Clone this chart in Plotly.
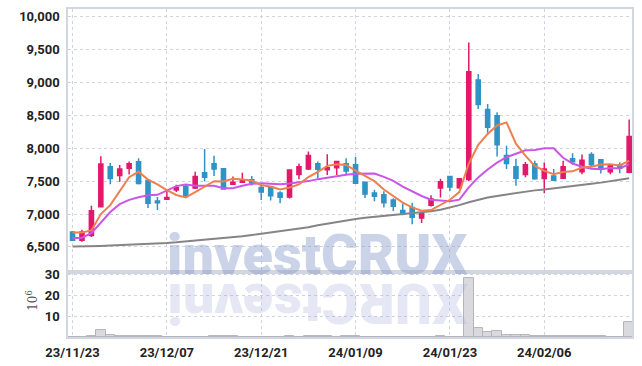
import plotly.graph_objects as go
from plotly.subplots import make_subplots

dates = ["23/11/23", "23/11/24", "23/11/27", "23/11/28", "23/11/29", "23/11/30", "23/12/01", "23/12/04", "23/12/05", "23/12/06",
         "23/12/07", "23/12/08", "23/12/11", "23/12/12", "23/12/13", "23/12/14", "23/12/15", "23/12/18", "23/12/19", "23/12/20",
         "23/12/21", "23/12/22", "23/12/27", "23/12/28", "23/12/29", "24/01/02", "24/01/03", "24/01/04", "24/01/05", "24/01/08",
         "24/01/09", "24/01/10", "24/01/11", "24/01/12", "24/01/15", "24/01/16", "24/01/17", "24/01/18", "24/01/19", "24/01/22",
         "24/01/23", "24/01/24", "24/01/25", "24/01/26", "24/01/29", "24/01/30", "24/01/31", "24/02/01", "24/02/02", "24/02/05",
         "24/02/06", "24/02/07", "24/02/12", "24/02/13", "24/02/15", "24/02/16", "24/02/19", "24/02/20", "24/02/21", "24/02/22"]

opens = [6725, 6600, 6675, 7110, 7720, 7585, 7695, 7795, 7510, 7200,
         7225, 7365, 7420, 7395, 7630, 7765, 7690, 7455, 7485, 7520,
         7405, 7410, 7320, 7260, 7600, 7685, 7765, 7672, 7705, 7765,
         7750, 7485, 7320, 7295, 7215, 7055, 7100, 6940, 7135, 7395,
         7570, 7400, 7525, 9040, 8590, 8495, 7890, 7720, 7600, 7760,
         7540, 7580, 7545, 7840, 7645, 7905, 7825, 7645, 7745, 7635]
highs = [6740, 6760, 7125, 7880, 7775, 7745, 7800, 7850, 7510, 7260,
         7350, 7445, 7440, 7645, 7990, 7885, 7690, 7570, 7630, 7580,
         7445, 7420, 7345, 7680, 7770, 7950, 7800, 7910, 7810, 7850,
         7870, 7490, 7370, 7345, 7240, 7160, 7170, 7010, 7285, 7535,
         7570, 7540, 9610, 9130, 8675, 8550, 8040, 7840, 7790, 7810,
         7785, 7685, 7810, 7925, 7905, 7940, 7830, 7750, 7785, 8440]
lows = [6590, 6580, 6650, 7100, 7455, 7490, 7600, 7450, 7090, 7060,
        7215, 7335, 7255, 7380, 7495, 7580, 7370, 7445, 7475, 7435,
        7215, 7205, 7165, 7235, 7530, 7670, 7535, 7595, 7595, 7600,
        7460, 7245, 7195, 7100, 7045, 6980, 6845, 6865, 7115, 7250,
        7350, 7385, 7500, 8600, 8210, 7875, 7685, 7430, 7560, 7520,
        7315, 7510, 7540, 7750, 7605, 7710, 7615, 7605, 7620, 7620]
closes = [6600, 6725, 7050, 7760, 7540, 7685, 7765, 7465, 7165, 7170,
          7250, 7400, 7280, 7570, 7560, 7685, 7380, 7485, 7520, 7475,
          7335, 7280, 7255, 7670, 7720, 7890, 7680, 7705, 7800, 7655,
          7470, 7305, 7270, 7170, 7120, 7000, 6950, 7005, 7230, 7490,
          7410, 7535, 9165, 8665, 8320, 8055, 7770, 7545, 7750, 7535,
          7685, 7515, 7720, 7795, 7820, 7750, 7685, 7745, 7695, 8180]

ma_short = [6720, 6720, 6750, 7000, 7135, 7352, 7560, 7643, 7524, 7450,
            7363, 7290, 7253, 7334, 7412, 7499, 7495, 7536, 7526, 7509,
            7439, 7419, 7373, 7403, 7452, 7563, 7643, 7733, 7759, 7746,
            7662, 7587, 7500, 7374, 7267, 7173, 7102, 7049, 7061, 7135,
            7217, 7334, 7766, 8053, 8219, 8348, 8395, 8071, 7888, 7731,
            7657, 7606, 7641, 7650, 7707, 7720, 7754, 7759, 7739, 7811]
ma_mid = [6630, 6640, 6710, 6870, 7030, 7150, 7215, 7255, 7285, 7292,
          7358, 7425, 7448, 7429, 7431, 7431, 7392, 7394, 7430, 7460,
          7469, 7457, 7454, 7464, 7480, 7501, 7531, 7553, 7581, 7599,
          7612, 7615, 7616, 7566, 7506, 7417, 7344, 7274, 7217, 7201,
          7195, 7218, 7407, 7557, 7677, 7782, 7864, 7918, 7970, 7975,
          8002, 8000, 7856, 7769, 7719, 7688, 7680, 7700, 7694, 7759]
ma_long = [6505, 6505, 6510, 6515, 6520, 6525, 6530, 6535, 6542, 6550,
           6560, 6570, 6582, 6595, 6610, 6622, 6635, 6648, 6662, 6680,
           6700, 6715, 6730, 6752, 6775, 6800, 6828, 6855, 6880, 6905,
           6925, 6942, 6956, 6968, 6980, 6992, 7005, 7022, 7042, 7066,
           7100, 7135, 7180, 7220, 7250, 7275, 7298, 7320, 7340, 7360,
           7375, 7390, 7405, 7420, 7440, 7460, 7478, 7497, 7515, 7545]

volume_m = [0.1, 0.1, 0.5, 3.5, 0.8, 0.3, 0.3, 0.3, 0.3, 0.3,
            0.1, 0.1, 0.1, 0.1, 0.1, 0.3, 0.3, 0.3, 0.1, 0.1,
            0.1, 0.1, 0.1, 0.3, 0.1, 0.3, 0.3, 0.3, 0.1, 0.3,
            0.3, 0.1, 0.1, 0.1, 0.1, 0.1, 0.1, 0.1, 0.1, 0.3,
            0.1, 0.1, 28.5, 4.4, 2.4, 2.9, 0.8, 0.8, 1.0, 0.3,
            0.3, 0.3, 0.3, 0.3, 0.3, 0.3, 0.3, 0.1, 0.1, 7.3]

x_ticks = ["23/11/23", "23/12/07", "23/12/21", "24/01/09", "24/01/23", "24/02/06"]
price_ticks = [6500, 7000, 7500, 8000, 8500, 9000, 9500, 10000]
volume_ticks = [10, 20, 30]

UP = "#e2196b"
DOWN = "#2f93c6"
GRID = "#cfd4e2"
FRAME = "#d2d6df"
TICKFONT = dict(family="Roboto, sans-serif", size=13, color="#222222", weight="bold")

fig = make_subplots(rows=2, cols=1, shared_xaxes=True, vertical_spacing=0,
                    row_heights=[0.802, 0.198])

fig.add_trace(go.Candlestick(
    x=dates, open=opens, high=highs, low=lows, close=closes,
    increasing=dict(line=dict(color=UP, width=1.5), fillcolor=UP),
    decreasing=dict(line=dict(color=DOWN, width=1.5), fillcolor=DOWN),
    whiskerwidth=0, showlegend=False), row=1, col=1)

fig.add_trace(go.Scatter(x=dates, y=ma_long, mode="lines",
                         line=dict(color="#858585", width=2), showlegend=False), row=1, col=1)
fig.add_trace(go.Scatter(x=dates, y=ma_mid, mode="lines",
                         line=dict(color="#cc55e8", width=2), showlegend=False), row=1, col=1)
fig.add_trace(go.Scatter(x=dates, y=ma_short, mode="lines",
                         line=dict(color="#ee8050", width=2), showlegend=False), row=1, col=1)

fig.add_trace(go.Bar(x=dates, y=volume_m,
                     marker=dict(color="#dadade", line=dict(color="#b4b4bc", width=1)),
                     showlegend=False), row=2, col=1)

xr = [-0.48, 59.3]
fig.update_xaxes(type="category", range=xr, tickvals=x_ticks, ticktext=x_ticks,
                 showgrid=True, gridcolor=GRID, griddash="dot", gridwidth=1,
                 showline=True, linecolor=FRAME, linewidth=1.5, mirror=True,
                 rangeslider=dict(visible=False), zeroline=False, automargin=False)
fig.update_xaxes(showticklabels=False, row=1, col=1)
fig.update_xaxes(showticklabels=True, tickfont=TICKFONT, ticks="outside",
                 ticklen=3, tickcolor="rgba(0,0,0,0)", row=2, col=1)

fig.update_yaxes(range=[6117, 10120], tickvals=price_ticks, tickformat=",d",
                 showgrid=True, gridcolor=GRID, griddash="dot", gridwidth=1,
                 showline=True, linecolor=FRAME, linewidth=1.5, mirror=True,
                 zeroline=False, tickfont=TICKFONT, ticks="outside", ticklen=4,
                 tickcolor="rgba(0,0,0,0)", automargin=False, row=1, col=1)
fig.update_yaxes(range=[0, 31.3], tickvals=volume_ticks,
                 showgrid=True, gridcolor=GRID, griddash="dot", gridwidth=1,
                 showline=True, linecolor=FRAME, linewidth=1.5, mirror=True,
                 zeroline=False, tickfont=TICKFONT, ticks="outside", ticklen=4,
                 tickcolor="rgba(0,0,0,0)", automargin=False, row=2, col=1)

wm_font = dict(family="Roboto, Open Sans, sans-serif", size=56, color="rgba(130,150,200,0.42)", weight=900)
fig.add_annotation(text="investCRUX", xref="paper", yref="paper", x=0.443, y=0.25,
                   xanchor="center", yanchor="middle", showarrow=False, font=wm_font)
fig.add_annotation(text="XURCtsevni", xref="paper", yref="paper", x=0.443, y=0.103,
                   xanchor="center", yanchor="middle", showarrow=False, textangle=180,
                   font=dict(family="Roboto, Open Sans, sans-serif", size=56,
                             color="rgba(150,165,210,0.25)", weight=900))
fig.add_annotation(text="10<sup>6</sup>", xref="paper", yref="paper", x=-0.064, y=0.113,
                   xanchor="center", yanchor="middle", showarrow=False, textangle=-90,
                   font=dict(family="DejaVu Serif, serif", size=12, color="#555555"))

fig.update_layout(width=642, height=366, margin=dict(l=68, r=10, t=9, b=29),
                  paper_bgcolor="white", plot_bgcolor="white", showlegend=False,
                  bargap=0, boxgap=0.38, hovermode=False)

fig.write_html("out.html", config={"displayModeBar": False},
               post_script="document.body.style.margin='0';")
